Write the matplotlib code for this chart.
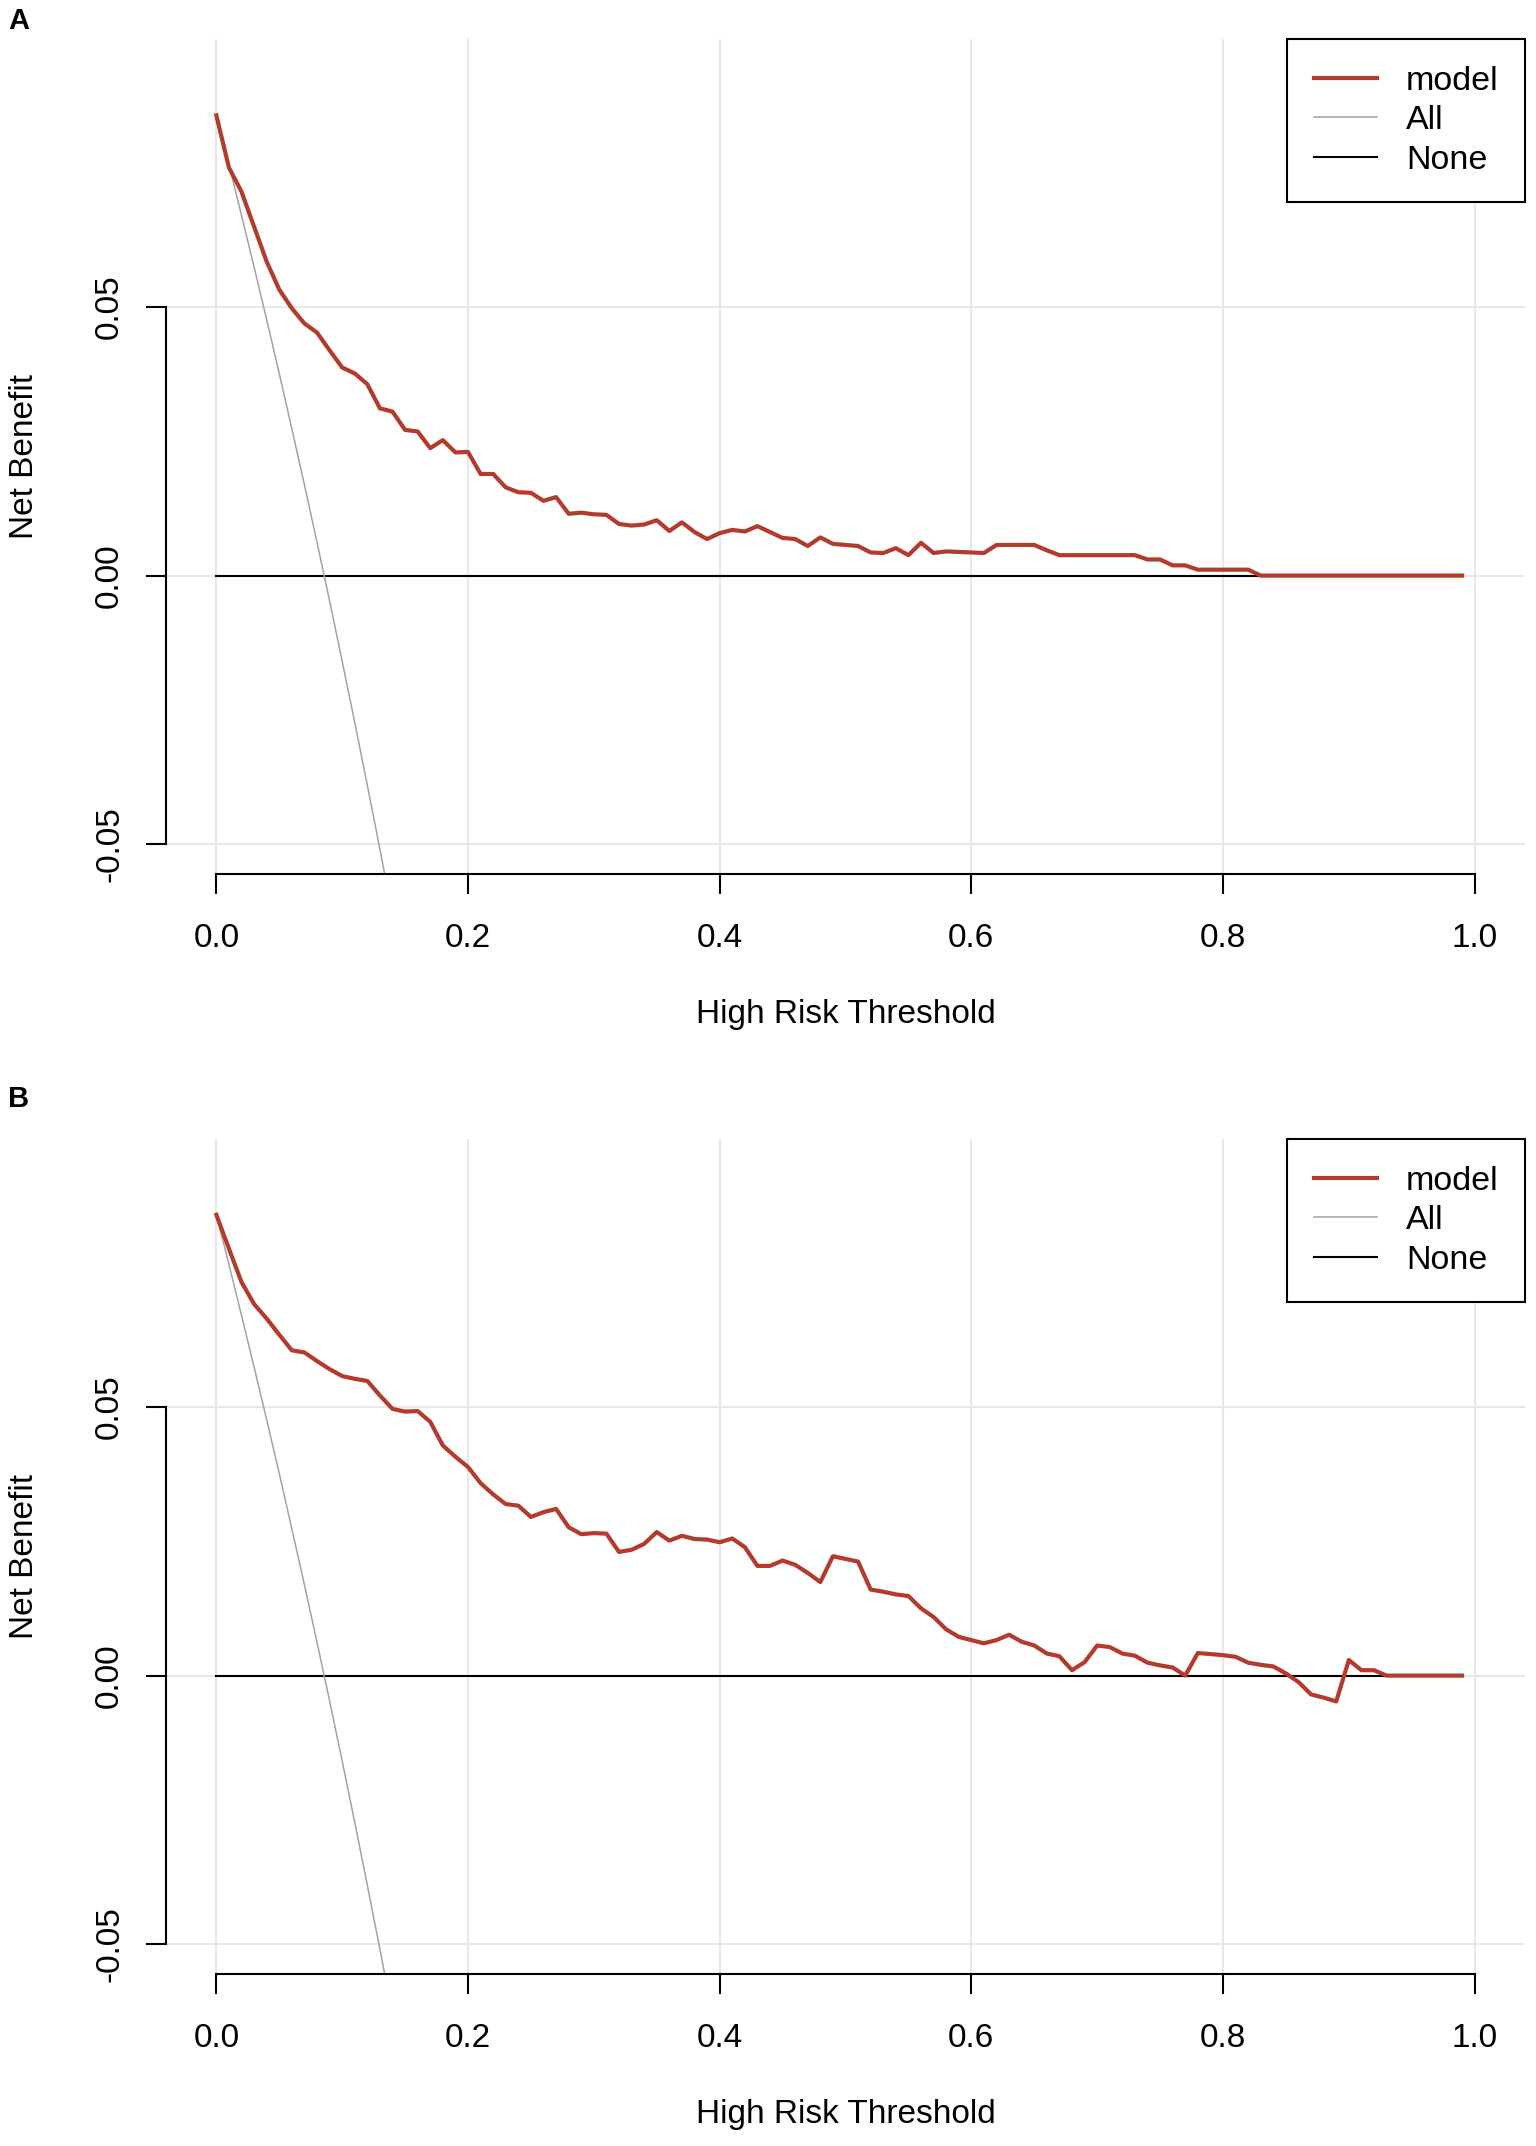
import numpy as np
import matplotlib
matplotlib.use("Agg")
import matplotlib.pyplot as plt
from matplotlib.lines import Line2D

plt.rcParams['font.family'] = ['Liberation Sans', 'DejaVu Sans']

# thresholds 0.00 ... 0.99
thr = np.round(np.arange(0, 1.0, 0.01), 2)

# net benefit of the model, panel A
nb_a = [0.0856, 0.0759, 0.0714, 0.0649, 0.0584, 0.0532, 0.0497, 0.0469, 0.0452, 0.0419,
        0.0387, 0.0376, 0.0356, 0.0311, 0.0305, 0.0271, 0.0268, 0.0237, 0.0252, 0.0229,
        0.0230, 0.0189, 0.0189, 0.0164, 0.0155, 0.0154, 0.0139, 0.0146, 0.0115, 0.0117,
        0.0114, 0.0113, 0.0096, 0.0093, 0.0095, 0.0103, 0.0083, 0.0099, 0.0081, 0.0068,
        0.0079, 0.0085, 0.0082, 0.0092, 0.0081, 0.0070, 0.0068, 0.0055, 0.0071, 0.0059,
        0.0057, 0.0055, 0.0043, 0.0042, 0.0051, 0.0038, 0.0061, 0.0042, 0.0045, 0.0044,
        0.0043, 0.0042, 0.0057, 0.0057, 0.0057, 0.0057, 0.0047, 0.0038, 0.0038, 0.0038,
        0.0038, 0.0038, 0.0038, 0.0038, 0.0030, 0.0030, 0.0019, 0.0019, 0.0011, 0.0011,
        0.0011, 0.0011, 0.0011, 0.0, 0.0, 0.0, 0.0, 0.0, 0.0, 0.0,
        0.0, 0.0, 0.0, 0.0, 0.0, 0.0, 0.0, 0.0, 0.0, 0.0]

# net benefit of the model, panel B
nb_b = [0.0857, 0.0794, 0.0732, 0.0691, 0.0664, 0.0634, 0.0605, 0.0601, 0.0585, 0.0570,
        0.0557, 0.0552, 0.0548, 0.0521, 0.0496, 0.0491, 0.0492, 0.0472, 0.0428, 0.0407,
        0.0388, 0.0358, 0.0337, 0.0319, 0.0316, 0.0295, 0.0304, 0.0310, 0.0276, 0.0263,
        0.0265, 0.0264, 0.0230, 0.0234, 0.0245, 0.0267, 0.0251, 0.0260, 0.0254, 0.0253,
        0.0248, 0.0255, 0.0239, 0.0204, 0.0204, 0.0214, 0.0206, 0.0191, 0.0174, 0.0222,
        0.0217, 0.0212, 0.0160, 0.0156, 0.0151, 0.0148, 0.0125, 0.0109, 0.0086, 0.0072,
        0.0066, 0.0060, 0.0066, 0.0076, 0.0063, 0.0056, 0.0041, 0.0036, 0.0010, 0.0025,
        0.0056, 0.0053, 0.0041, 0.0037, 0.0024, 0.0019, 0.0015, 0.0000, 0.0042, 0.0040,
        0.0038, 0.0035, 0.0024, 0.0020, 0.0017, 0.0004, -0.0012, -0.0035, -0.0041, -0.0048,
        0.0029, 0.0010, 0.0010, 0.0, 0.0, 0.0, 0.0, 0.0, 0.0, 0.0]

# treat-all line (leaves the plot below ~0.134)
thr_all = [0.00, 0.01, 0.02, 0.03, 0.04, 0.05, 0.06, 0.07, 0.08, 0.09, 0.10, 0.11, 0.12, 0.13, 0.14]
nb_all = [0.0857, 0.0765, 0.0670, 0.0574, 0.0476, 0.0376, 0.0273, 0.0169, 0.0062, -0.0047,
          -0.0159, -0.0273, -0.0390, -0.0509, -0.0631]

xticks = [0.0, 0.2, 0.4, 0.6, 0.8, 1.0]
xticklabels = ['0.0', '0.2', '0.4', '0.6', '0.8', '1.0']
yticks = [-0.05, 0.0, 0.05]
yticklabels = ['-0.05', '0.00', '0.05']

RED = '#b43a2b'
GREY = '#a3a3a3'
FS = 24

fig = plt.figure(figsize=(15.36, 21.46), dpi=100)
W, H = 1536, 2146


def panel(top_px, model_nb):
    left, right, bottom = 166, 1525, top_px + 835
    ax = fig.add_axes([left / W, 1 - bottom / H, (right - left) / W, 835 / H])
    ax.plot(thr, np.zeros(len(thr)), color='black', lw=1.5)
    ax.plot(thr_all, nb_all, color=GREY, lw=1.1)
    ax.plot(thr, model_nb, color=RED, lw=3.0)
    ax.set_xlim(-0.04, 1.04)
    ax.set_ylim(-0.0555, 0.0998)
    ax.set_xticks(xticks)
    ax.set_xticklabels(xticklabels)
    ax.set_yticks(yticks)
    ax.set_yticklabels(yticklabels)
    ax.grid(True, color='#e8e8e8', lw=1.5)
    ax.set_axisbelow(True)
    for s in ['top', 'right']:
        ax.spines[s].set_visible(False)
    ax.spines['left'].set_bounds(-0.05, 0.05)
    ax.spines['bottom'].set_bounds(0, 1)
    for s in ['left', 'bottom']:
        ax.spines[s].set_linewidth(1.5)
    ax.tick_params(axis='both', length=14.4, width=1.5, labelsize=FS)
    ax.tick_params(axis='x', pad=21)
    ax.tick_params(axis='y', pad=15)
    for lab in ax.get_yticklabels():
        lab.set_rotation(90)
        lab.set_va('center')
    ax.set_xlabel('High Risk Threshold', fontsize=FS)
    ax.xaxis.set_label_coords(0.5, -141 / 835)
    ax.xaxis.label.set_va('center')
    ax.set_ylabel('Net Benefit', fontsize=FS)
    ax.yaxis.set_label_coords(-141 / 1359, 0.5)
    ax.yaxis.label.set_va('center')

    handles = [Line2D([], [], color=RED, lw=3.0),
               Line2D([], [], color=GREY, lw=1.1),
               Line2D([], [], color='black', lw=1.5)]
    leg = ax.legend(handles, ['model', 'All', 'None'], loc='upper right',
                    bbox_to_anchor=(1, 1), borderaxespad=0, fontsize=24.5,
                    fancybox=False, framealpha=1, edgecolor='black',
                    handlelength=1.85, handletextpad=0.85, borderpad=0.78,
                    labelspacing=0.25)
    leg.get_frame().set_linewidth(1.5)
    return ax


panel(39, nb_a)
panel(1139, nb_b)

fig.text(19 / W, 1 - 21 / H, 'A', fontsize=21, fontweight='bold', ha='center', va='center')
fig.text(19 / W, 1 - 1099 / H, 'B', fontsize=21, fontweight='bold', ha='center', va='center')

fig.savefig('out.png', dpi=100, facecolor='white')
